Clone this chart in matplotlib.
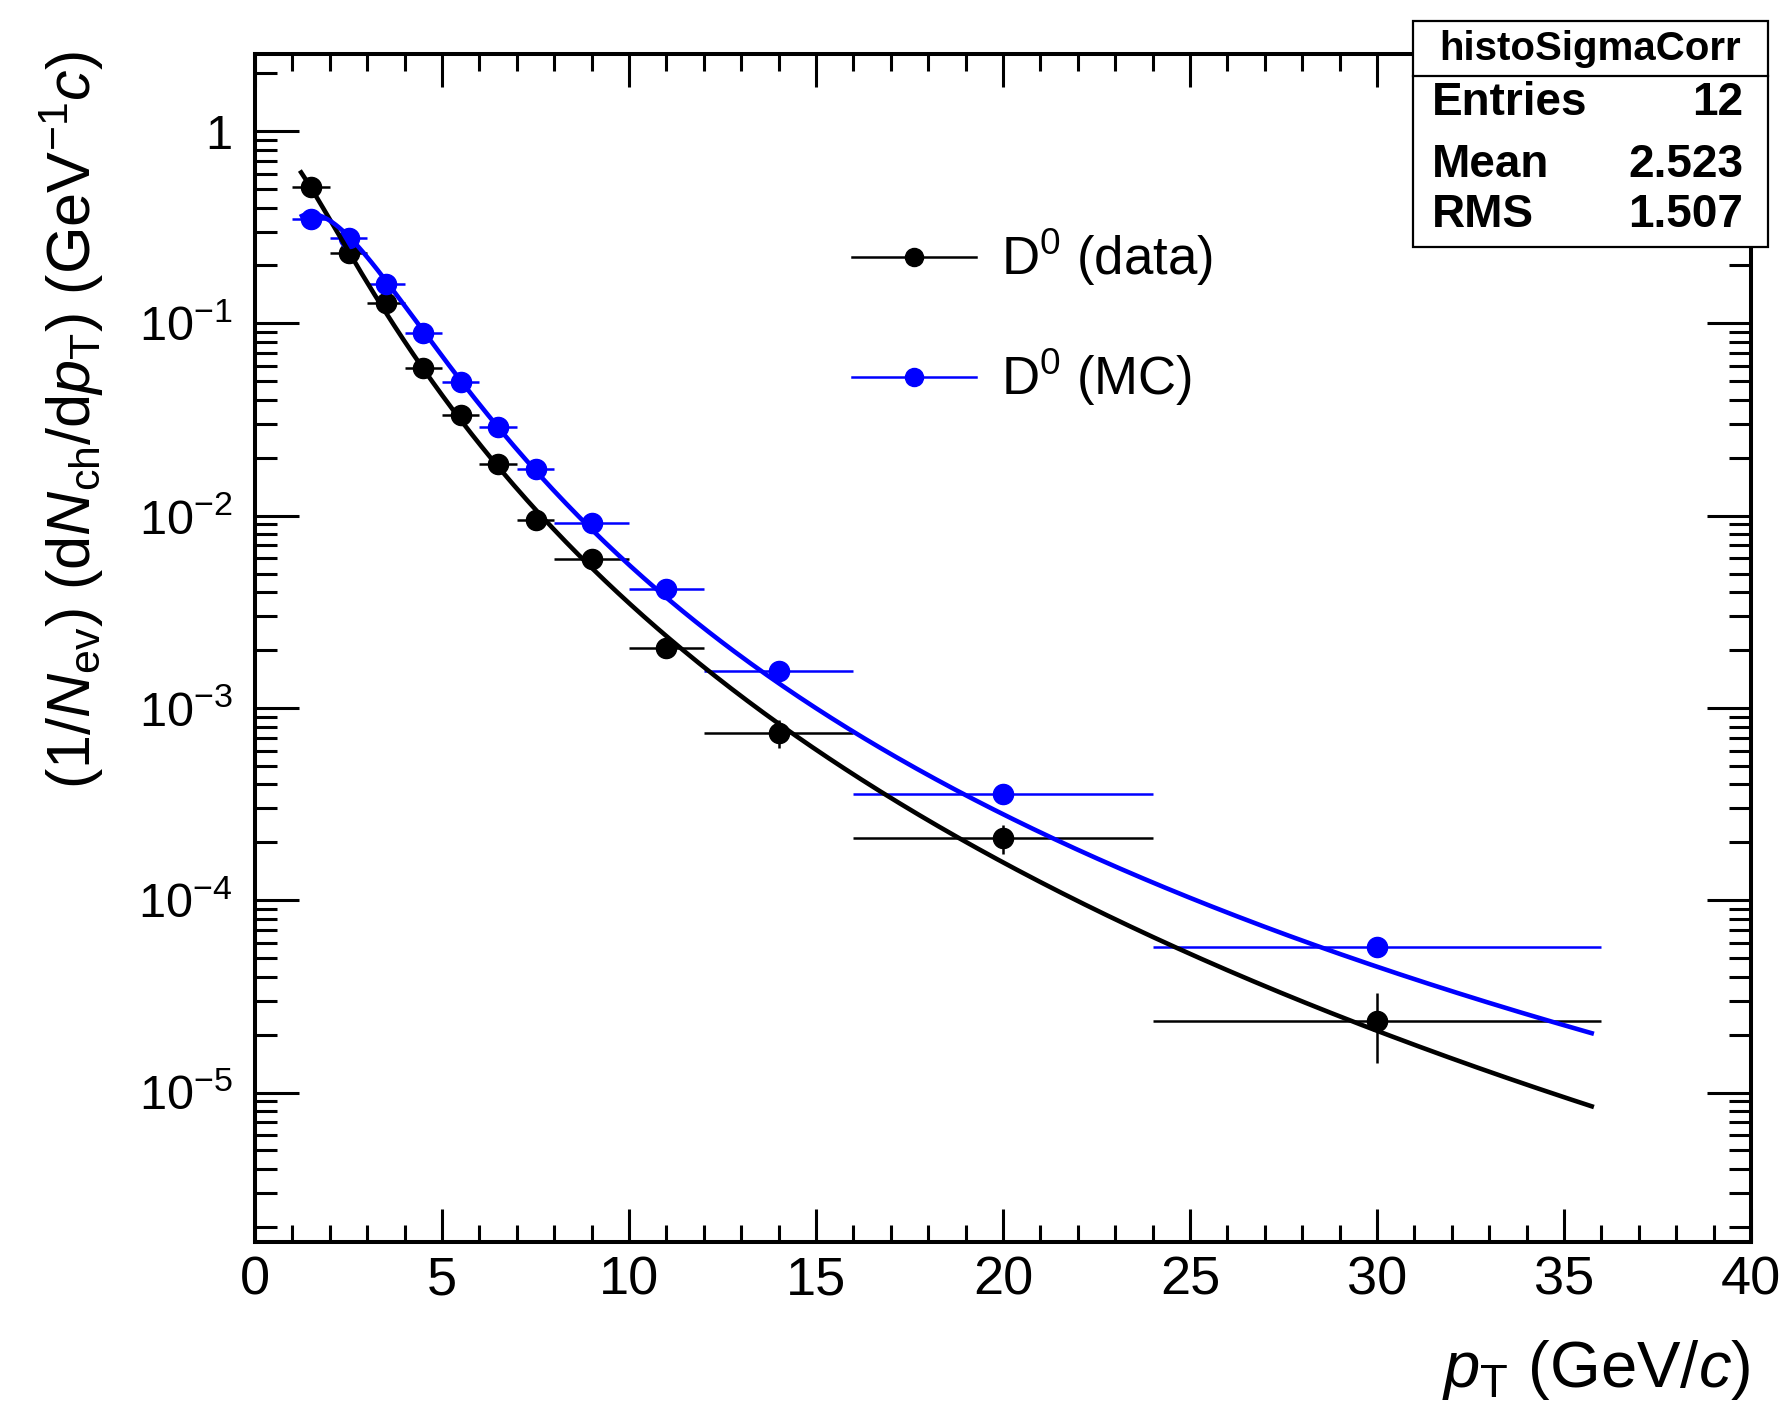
import numpy as np
import matplotlib
matplotlib.use("Agg")
import matplotlib.pyplot as plt
from matplotlib.ticker import MultipleLocator, FixedLocator, FuncFormatter, NullFormatter
from matplotlib.lines import Line2D
from matplotlib.patches import Rectangle

plt.rcParams['font.family'] = ['Liberation Sans', 'DejaVu Sans']
plt.rcParams['mathtext.fontset'] = 'custom'
plt.rcParams['mathtext.rm'] = 'Liberation Sans'
plt.rcParams['mathtext.it'] = 'Liberation Sans:italic'
plt.rcParams['mathtext.bf'] = 'Liberation Sans:bold'

# pT bins (GeV/c)
pt_low = [1, 2, 3, 4, 5, 6, 7, 8, 10, 12, 16, 24]
pt_high = [2, 3, 4, 5, 6, 7, 8, 10, 12, 16, 24, 36]

# corrected yields, data
data_y = [0.513, 0.233, 0.128, 0.0583, 0.0334, 0.01855, 0.00948, 0.00593,
          0.00206, 7.43e-4, 2.10e-4, 2.36e-5]
data_err = [0.015, 0.007, 0.004, 0.0018, 0.0010, 0.0006, 0.0003, 0.0002,
            0.00008, 1.25e-4, 0.37e-4, 0.93e-5]

# corrected yields, MC
mc_y = [0.347, 0.277, 0.161, 0.0887, 0.0497, 0.0290, 0.0174, 0.00912,
        0.00414, 0.00156, 3.56e-4, 5.74e-5]
mc_err = [0.003, 0.002, 0.001, 0.0005, 0.0003, 0.0002, 0.0001, 0.00005,
          0.00002, 0.00001, 2e-6, 4e-7]

# fit parameters: f(pT) = A * pT / (1 + (pT/p0)^b)^n
data_fit = dict(A=4.12, p0=3.37, b=1.0, n=6.8)
mc_fit = dict(A=0.4305, p0=3.2, b=2.0, n=2.8)
fit_range = (1.2, 35.8)

# y-axis decades and tick labels
y_decades = [1e-5, 1e-4, 1e-3, 1e-2, 1e-1, 1.0]

# statistics box
stats_title = "histoSigmaCorr"
stats_rows = [("Entries", "12"), ("Mean", "2.523"), ("RMS", "1.507")]

W, H = 1788, 1416
fig = plt.figure(figsize=(W / 100, H / 100), dpi=100)
ax = fig.add_axes([255 / W, 1 - 1242 / H, (1751 - 255) / W, (1242 - 54) / H])

x = np.array([(lo + hi) / 2 for lo, hi in zip(pt_low, pt_high)])
xerr = [x - np.array(pt_low), np.array(pt_high) - x]


def fitfunc(pt, A, p0, b, n):
    return A * pt / (1 + (pt / p0) ** b) ** n


ax.errorbar(x, data_y, xerr=xerr, yerr=data_err, fmt='o', color='black',
            ms=14.5, elinewidth=1.8, capsize=0, zorder=3)
ax.errorbar(x, mc_y, xerr=xerr, yerr=mc_err, fmt='o', color='#0000ff',
            ms=14.5, elinewidth=1.8, capsize=0, zorder=3)

ptf = np.linspace(fit_range[0], fit_range[1], 400)
ax.plot(ptf, fitfunc(ptf, **data_fit), color='black', lw=3.3, zorder=4,
        solid_capstyle='butt')
ax.plot(ptf, fitfunc(ptf, **mc_fit), color='#0000ff', lw=3.3, zorder=5,
        solid_capstyle='butt')

ax.set_yscale('log')
ax.set_xlim(0, 40)
ax.set_ylim(1.67e-6, 2.515)

ax.xaxis.set_major_locator(MultipleLocator(5))
ax.xaxis.set_minor_locator(MultipleLocator(1))
minor_y = [m * d for d in [1e-6] + y_decades for m in range(2, 10)
           if 1.67e-6 <= m * d <= 2.515]
ax.yaxis.set_major_locator(FixedLocator(y_decades))
ax.yaxis.set_minor_locator(FixedLocator(minor_y))
ax.yaxis.set_minor_formatter(NullFormatter())


def ylab(v, pos):
    e = int(round(np.log10(v)))
    if e == 0:
        return "1"
    return r"$10^{%d}$" % e


ax.yaxis.set_major_formatter(FuncFormatter(ylab))

for s in ax.spines.values():
    s.set_linewidth(2.9)
ax.tick_params(which='both', direction='in', top=True, right=True, width=2.2)
ax.tick_params(axis='x', which='major', length=24, labelsize=39, pad=10)
ax.tick_params(axis='x', which='minor', length=12)
ax.tick_params(axis='y', which='major', length=32, labelsize=35, pad=16)
ax.tick_params(axis='y', which='minor', length=16)

# axis titles
fig.text(1750 / W, 1 - 1387 / H, r"$p_{\rm T}$ (GeV/$c$)", fontsize=47,
         ha='right', va='baseline')
fig.text(72 / W, 1 - 51 / H,
         r"(1/$N_{\rm ev}$) (d$N_{\rm ch}$/d$p_{\rm T}$) (GeV$^{-1}$$c$)",
         fontsize=44, rotation=90, ha='center', va='top')

# legend
for yy, col, lab in [(256.7, 'black', r"D$^{0}$ (data)"),
                     (376.7, '#0000ff', r"D$^{0}$ (MC)")]:
    fig.add_artist(Line2D([852 / W, 976 / W], [1 - yy / H, 1 - yy / H],
                          color=col, lw=1.8))
    fig.add_artist(Line2D([914 / W], [1 - yy / H], marker='o', ms=13,
                          color=col, lw=0))
    fig.text(1001 / W, 1 - (yy + 18.5) / H, lab, fontsize=38, ha='left',
             va='baseline', color='black')

# statistics box
bx0, bx1, by0, by1, ydiv = 1413, 1768, 21, 247, 76
fig.add_artist(Rectangle((bx0 / W, 1 - by1 / H), (bx1 - bx0) / W,
                         (by1 - by0) / H, facecolor='white', edgecolor='black',
                         lw=1.6, zorder=10))
fig.add_artist(Line2D([bx0 / W, bx1 / W], [1 - ydiv / H, 1 - ydiv / H],
                      color='black', lw=1.6, zorder=11))
fig.text((bx0 + bx1) / 2 / W, 1 - 60 / H, stats_title, fontsize=29,
         fontweight='bold', ha='center', va='baseline', zorder=12)
for (name, val), base in zip(stats_rows, [115, 177, 227]):
    fig.text(1432 / W, 1 - base / H, name, fontsize=33, fontweight='bold',
             ha='left', va='baseline', zorder=12)
    fig.text(1743 / W, 1 - base / H, val, fontsize=33, fontweight='bold',
             ha='right', va='baseline', zorder=12)

fig.savefig("out.png", dpi=100)
